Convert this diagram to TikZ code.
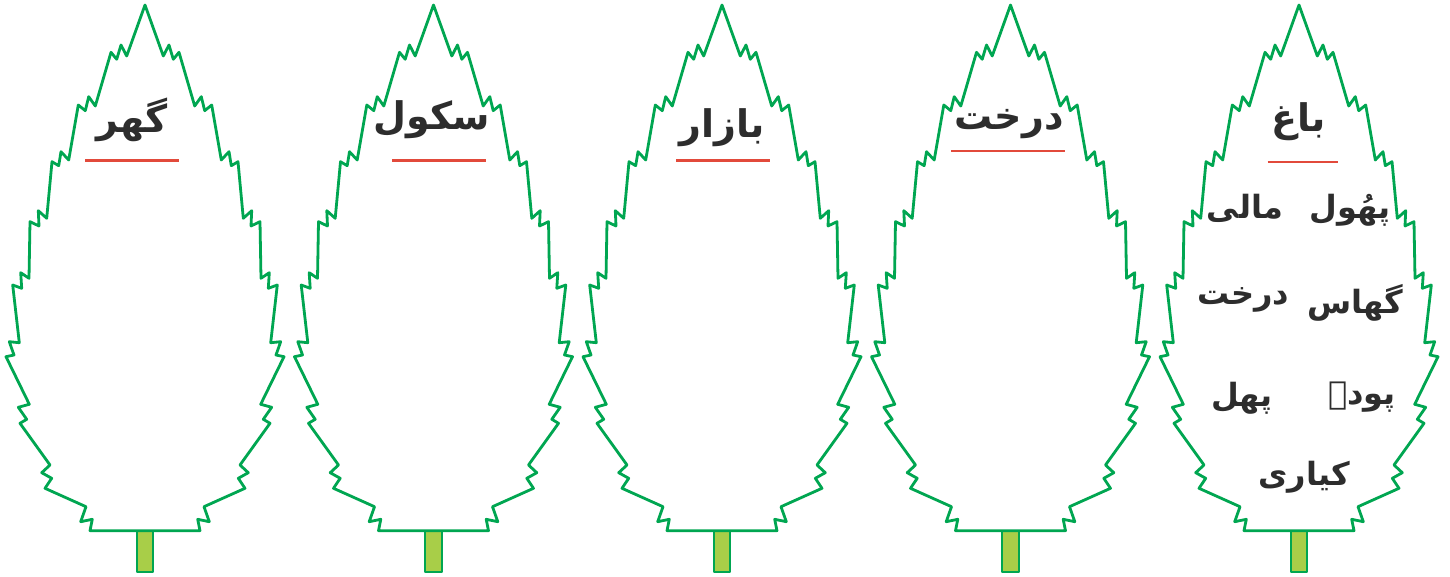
\documentclass[tikz,border=0pt]{standalone}
\usepackage{fontspec}
\newfontfamily\urdu[Script=Arabic]{DejaVu Sans}
\TeXXeTstate=1
\definecolor{leafgreen}{RGB}{0,166,81}
\definecolor{stemfill}{RGB}{168,206,72}
\definecolor{ink}{RGB}{45,45,45}
\definecolor{ulred}{RGB}{226,74,59}
\tikzset{
  leafline/.style={draw=leafgreen, line width=2.8pt, line join=round, fill=white},
  stembox/.style={draw=leafgreen, line width=2pt, line join=round, fill=stemfill},
  uline/.style={draw=ulred, line width=2.6pt},
  title/.style={font=\urdu\bfseries\fontsize{38}{44}\selectfont, text=ink, inner sep=0pt},
  word/.style={font=\urdu\bfseries\fontsize{32}{38}\selectfont, text=ink, inner sep=0pt},
  leaf/.pic={
    \draw[stembox] (-8.3,530.7) rectangle (8.3,571.7);
    \draw[leafline] (0,5) -- (18.3,56) -- (24,45) -- (28.3,59.3) -- (34,52.3)
      -- (49.7,106) -- (56.3,96.7) -- (59.7,110.7) -- (66.7,105)
      -- (76.3,160) -- (84,151.7) -- (86.3,165.7) -- (93,161.7)
      -- (98.3,218.3) -- (106.7,210.7) -- (106,226) -- (115,221.7)
      -- (116,278.3) -- (124.3,272.7) -- (123.3,288.3) -- (132.3,285)
      -- (125.7,342.7) -- (135.7,341.7) -- (131,355) -- (139,356.7)
      -- (115.7,404.3) -- (126.7,407.3) -- (118.3,419.3) -- (125,423.3)
      -- (95,465) -- (103.3,472.7) -- (93.3,478.3) -- (100,488.3)
      -- (59,506.7) -- (64.3,521.7) -- (52.7,519.3) -- (55,530.7)
      -- (-55,530.7) -- (-52.7,519.3) -- (-64.3,521.7) -- (-59,506.7)
      -- (-100,488.3) -- (-93.3,478.3) -- (-103.3,472.7) -- (-95,465)
      -- (-125,423.3) -- (-118.3,419.3) -- (-126.7,407.3) -- (-115.7,404.3)
      -- (-139,356.7) -- (-131,355) -- (-135.7,341.7) -- (-125.7,342.7)
      -- (-132.3,285) -- (-123.3,288.3) -- (-124.3,272.7) -- (-116,278.3)
      -- (-115,221.7) -- (-106,226) -- (-106.7,210.7) -- (-98.3,218.3)
      -- (-93,161.7) -- (-86.3,165.7) -- (-84,151.7) -- (-76.3,160)
      -- (-66.7,105) -- (-59.7,110.7) -- (-56.3,96.7) -- (-49.7,106)
      -- (-34,52.3) -- (-28.3,59.3) -- (-24,45) -- (-18.3,56) -- cycle;
  }
}
\begin{document}
\begin{tikzpicture}[x=1pt,y=-1pt]
\useasboundingbox (0,0) rectangle (1450,577);
\fill[white] (0,0) rectangle (1450,577);

\pic (leafA) at (145,0) {leaf};
\pic (leafB) at (433.5,0) {leaf};
\pic (leafC) at (722,0) {leaf};
\pic (leafD) at (1010.5,0) {leaf};
\pic (leafE) at (1299,0) {leaf};

% titles
\node[title] (ghar) at (132,120) {\beginR گھر\endR};
\node[title] (school) at (432,120) {\beginR سکول\endR};
\node[title] (bazar) at (722,128) {\beginR بازار\endR};
\node[title] (darakht) at (1009,124) {\beginR درخت\endR};
\node[title] (bagh) at (1299,122) {\beginR باغ\endR};

% underlines
\draw[uline] (85,160.5) -- (179,160.5);
\draw[uline] (392.3,160.5) -- (486,160.5);
\draw[uline] (676,160.5) -- (770,160.5);
\draw[uline] (951,151) -- (1065,151);
\draw[uline] (1267.7,162) -- (1337.7,162);

% words in the last leaf
\node[word] (phool) at (1350,210) {\beginR پھُول\endR};
\node[word] (mali) at (1245,208) {\beginR مالی\endR};
\node[word] (ghas) at (1355,303) {\beginR گھاس\endR};
\node[word] (darakht2) at (1243,300) {\beginR درخت\endR};
\node[word] (paude) at (1362,397) {\beginR پودے\endR};
\node[word] (phal) at (1242,398) {\beginR پھل\endR};
\node[word] (kiyari) at (1304,477) {\beginR کیاری\endR};
\end{tikzpicture}
\end{document}
